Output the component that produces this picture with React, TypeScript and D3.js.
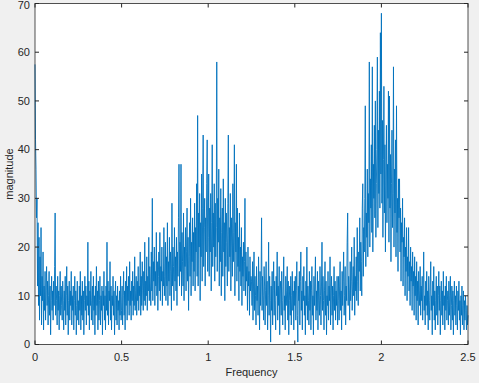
import React from 'react'
import * as d3 from 'd3'

// magnitude, split by 0.25 frequency band
const band0 = [57.5, 42, 36, 26, 30, 12, 25, 8, 22, 5, 18, 10, 24, 4, 14, 9, 19, 3, 12, 7, 15, 5, 11, 16, 8, 13, 4, 10, 15, 6, 12, 2, 9, 14, 7, 11, 5, 13, 8, 16, 27, 6, 12, 9, 4, 14, 7, 11, 3, 10, 15, 6, 12, 8, 5, 13, 9, 3, 11, 7, 14, 4, 10, 16, 6, 12, 2, 9, 13, 5, 11, 8, 15, 4, 10, 7, 12, 3, 9, 14, 6, 11, 2, 8, 13, 5]
const band1 = [9, 4, 12, 7, 15, 3, 10, 6, 13, 5, 11, 2, 9, 14, 7, 12, 4, 10, 8, 21, 6, 13, 3, 11, 8, 15, 5, 9, 12, 4, 14, 7, 10, 2, 12, 6, 16, 8, 11, 3, 13, 5, 9, 14, 4, 10, 7, 12, 2, 11, 8, 15, 5, 10, 3, 12, 7, 21, 6, 13, 4, 11, 9, 17, 5, 12, 3, 10, 8, 14, 6, 11, 2, 9, 13, 5, 10, 4, 12, 7, 9, 3, 11, 6, 14, 5]
const band2 = [7, 12, 4, 10, 15, 6, 11, 3, 13, 8, 16, 5, 12, 9, 14, 6, 17, 8, 11, 5, 13, 9, 15, 6, 12, 8, 18, 7, 11, 14, 6, 13, 9, 16, 7, 12, 10, 19, 6, 14, 8, 17, 11, 7, 15, 9, 21, 8, 13, 10, 18, 7, 14, 11, 22, 9, 16, 12, 8, 19, 11, 30, 9, 17, 13, 20, 8, 15, 12, 23, 10, 17, 7, 14, 19, 11, 23, 9, 16, 13, 20, 8, 15, 12, 24, 10]
const band3 = [14, 21, 9, 18, 12, 25, 8, 17, 13, 22, 10, 19, 15, 7, 29, 12, 20, 16, 9, 24, 13, 18, 11, 22, 8, 19, 14, 26, 37, 12, 21, 15, 37, 10, 23, 17, 12, 27, 9, 20, 16, 24, 11, 19, 28, 13, 22, 7, 18, 25, 14, 30, 10, 21, 17, 26, 12, 23, 15, 29, 11, 24, 19, 33, 14, 47, 12, 27, 20, 31, 9, 25, 18, 35, 13, 28, 43, 16, 24, 30, 12, 26, 19, 33, 42, 15]
const band4 = [22, 35, 14, 28, 19, 31, 11, 25, 41, 16, 27, 20, 33, 13, 29, 18, 24, 58, 15, 30, 21, 36, 12, 26, 17, 32, 10, 23, 28, 14, 34, 19, 25, 9, 30, 16, 27, 21, 12, 29, 43, 15, 24, 18, 31, 11, 26, 20, 14, 33, 17, 23, 41, 10, 25, 19, 37, 13, 28, 16, 22, 9, 27, 15, 20, 12, 24, 8, 18, 14, 21, 11, 17, 30, 10, 19, 13, 16, 7, 20, 12, 15, 6, 18, 11, 14]
const band5 = [13, 8, 17, 5, 12, 19, 7, 14, 10, 4, 16, 9, 12, 6, 18, 11, 3, 15, 8, 13, 26, 7, 14, 10, 5, 16, 12, 4, 11, 17, 8, 13, 3, 10, 21, 6, 14, 9, 0.5, 12, 7, 15, 4, 11, 17, 6, 13, 9, 3, 14, 10, 19, 5, 12, 8, 16, 2, 11, 13, 6, 15, 9, 4, 12, 18, 7, 10, 3, 14, 8, 11, 16, 5, 13, 2, 9, 12, 6, 14, 4, 10, 15, 7, 11, 3, 13]
const band6 = [8, 14, 5, 11, 17, 6, 0.5, 12, 9, 15, 4, 13, 19, 7, 11, 3, 14, 9, 16, 6, 10, 2, 13, 8, 20, 5, 12, 9, 4, 15, 7, 13, 3, 11, 16, 6, 10, 2, 14, 8, 12, 18, 5, 11, 7, 15, 3, 13, 9, 6, 16, 10, 4, 12, 21, 7, 14, 9, 3, 11, 17, 6, 13, 2, 10, 8, 15, 5, 12, 9, 18, 4, 11, 14, 6, 12, 3, 10, 16, 7, 13, 5, 11, 8, 14, 4]
const band7 = [9, 14, 5, 12, 17, 7, 11, 3, 15, 8, 13, 19, 6, 10, 16, 4, 12, 9, 21, 27, 8, 14, 11, 5, 17, 9, 13, 20, 7, 12, 16, 10, 22, 6, 14, 11, 18, 9, 24, 13, 8, 19, 15, 26, 11, 21, 17, 10, 28, 33, 14, 24, 19, 30, 49, 16, 27, 22, 36, 18, 31, 25, 58, 20, 34, 28, 41, 23, 57, 19, 37, 30, 45, 26, 50, 22, 33, 40, 59, 24, 44, 31, 52, 28, 64, 35]
const band8 = [68, 29, 46, 22, 38, 53, 27, 41, 19, 35, 45, 25, 37, 30, 52, 21, 51, 28, 39, 17, 33, 44, 24, 31, 57, 20, 36, 27, 42, 18, 49, 23, 30, 15, 34, 26, 34, 19, 28, 13, 25, 21, 30, 12, 22, 18, 26, 10, 20, 15, 24, 9, 18, 14, 24, 11, 17, 8, 20, 13, 16, 7, 19, 12, 15, 6, 18, 10, 14, 5, 17, 9, 13, 4, 15, 11, 8, 16, 6, 12, 9, 14, 5, 11, 19, 7]
const band9 = [10, 4, 13, 8, 15, 6, 11, 3, 14, 9, 5, 12, 17, 7, 10, 2, 13, 8, 16, 5, 11, 3, 9, 14, 6, 12, 4, 10, 15, 7, 12, 2, 9, 13, 6, 11, 4, 15, 8, 10, 3, 12, 7, 14, 5, 9, 11, 4, 13, 6, 10, 14, 3, 8, 12, 5, 11, 2, 9, 13, 6, 10, 4, 12, 8, 3, 11, 7, 13, 5, 9, 2, 10, 6, 12, 4, 8, 11, 3, 9, 5, 10, 7, 3, 8, 4, 6]

const magnitude = [...band0, ...band1, ...band2, ...band3, ...band4, ...band5, ...band6, ...band7, ...band8, ...band9]
const xTicks = [0, 0.5, 1, 1.5, 2, 2.5]
const yTicks = [0, 10, 20, 30, 40, 50, 60, 70]

const W = 479
const H = 383
const left = 35
const right = 468
const top = 3.5
const bottom = 344.5
const axisColor = '#262626'
const font = '"Liberation Sans", Arial, sans-serif'

const App = () => {
  const fStep = 2.5 / (magnitude.length - 1)
  const x = d3.scaleLinear().domain([0, 2.5]).range([left, right])
  const y = d3.scaleLinear().domain([0, 70]).range([bottom, top])
  const line = d3
    .line<number>()
    .x((d, i) => x(i * fStep))
    .y((d) => y(d))

  return (
    <svg width={W} height={H} style={{ position: 'absolute', left: 0, top: 0 }}>
      <rect width={W} height={H} fill="#f0f0f0" />
      <rect x={left} y={top} width={right - left} height={bottom - top} fill="#fff" />
      <path d={line(magnitude) || ''} fill="none" stroke="#0072BD" strokeWidth={0.9} />
      <rect x={left} y={top} width={right - left} height={bottom - top} fill="none" stroke={axisColor} strokeWidth={0.8} />
      {xTicks.map((t) => (
        <g key={'x' + t}>
          <line x1={x(t)} x2={x(t)} y1={bottom} y2={bottom - 4} stroke={axisColor} />
          <line x1={x(t)} x2={x(t)} y1={top} y2={top + 4} stroke={axisColor} />
          <text x={x(t)} y={bottom + 16} textAnchor="middle" fontSize={11} fill={axisColor} fontFamily={font}>
            {t}
          </text>
        </g>
      ))}
      {yTicks.map((t) => (
        <g key={'y' + t}>
          <line x1={left} x2={left + 4} y1={y(t)} y2={y(t)} stroke={axisColor} />
          <line x1={right} x2={right - 4} y1={y(t)} y2={y(t)} stroke={axisColor} />
          <text x={left - 5} y={Math.max(y(t), 5)} dy="0.35em" textAnchor="end" fontSize={11} fill={axisColor} fontFamily={font}>
            {t}
          </text>
        </g>
      ))}
      <text x={(left + right) / 2} y={376} textAnchor="middle" fontSize={11} fill={axisColor} fontFamily={font}>
        Frequency
      </text>
      <text
        transform={`translate(13 ${(top + bottom) / 2}) rotate(-90)`}
        textAnchor="middle"
        fontSize={11}
        fill={axisColor}
        fontFamily={font}
      >
        magnitude
      </text>
    </svg>
  )
}

export default App
